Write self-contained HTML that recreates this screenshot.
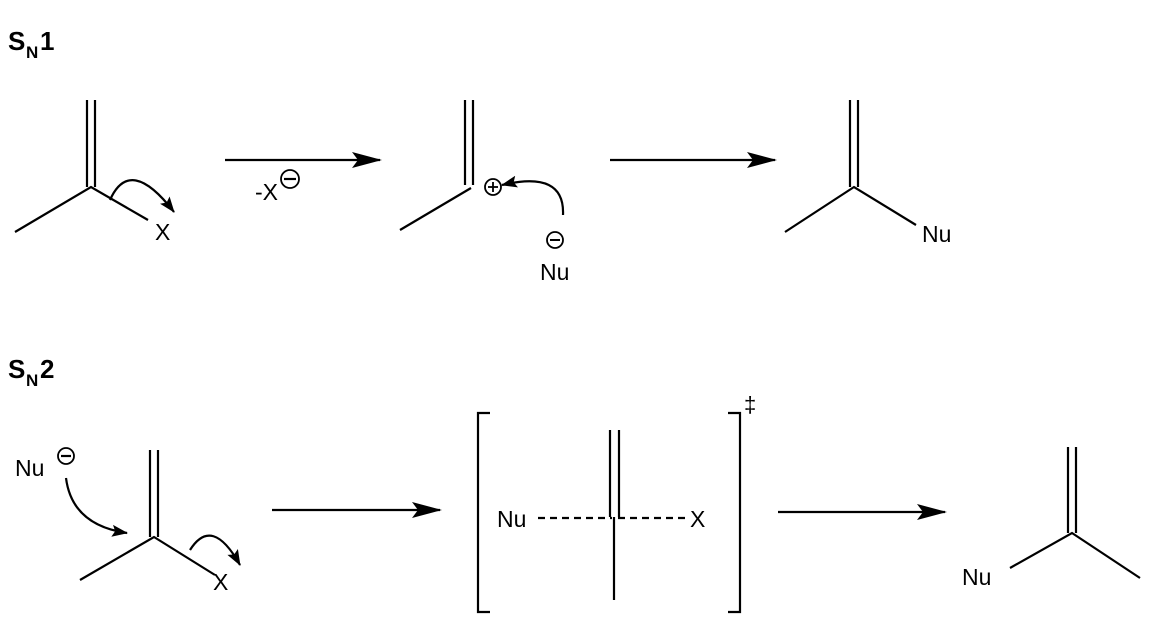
<!DOCTYPE html>
<html><head><style>
html,body{margin:0;padding:0;background:#fff}
svg{display:block}
text{font-family:"Liberation Sans",sans-serif;fill:#000}
</style></head><body>
<svg width="1159" height="628" viewBox="0 0 1159 628" xmlns="http://www.w3.org/2000/svg">
<defs>
<marker id="ah" markerWidth="16" markerHeight="14" refX="15" refY="7" orient="auto" markerUnits="userSpaceOnUse">
<path d="M0,1 L16,7 L0,13 L3,7 Z" fill="#000"/></marker>
<marker id="big" markerWidth="30" markerHeight="16" refX="28" refY="8" orient="auto" markerUnits="userSpaceOnUse">
<path d="M0,0 L30,8 L0,16 L6,8 Z" fill="#000"/></marker>
</defs>
<g stroke="#000" stroke-width="2.2" fill="none">
<line x1="87" y1="100" x2="87" y2="187"/><line x1="95" y1="100" x2="95" y2="187"/>
<polyline points="15,232 91,187 148,220"/>
<path d="M110,200 Q130,155 174,212" marker-end="url(#ah)"/>
<line x1="225" y1="160" x2="380" y2="160" marker-end="url(#big)"/>
<line x1="465" y1="100" x2="465" y2="185"/><line x1="473" y1="100" x2="473" y2="185"/>
<line x1="400" y1="230" x2="471" y2="188"/>
<circle cx="493" cy="187" r="8" stroke-width="1.8"/>
<line x1="488" y1="187" x2="498" y2="187" stroke-width="1.8"/><line x1="493" y1="182" x2="493" y2="192" stroke-width="1.8"/>
<path d="M563,215 Q565,170 502,185" marker-end="url(#ah)"/>
<circle cx="555" cy="240" r="8" stroke-width="1.8"/><line x1="550" y1="240" x2="560" y2="240" stroke-width="2"/>
<line x1="610" y1="160" x2="775" y2="160" marker-end="url(#big)"/>
<line x1="850" y1="100" x2="850" y2="187"/><line x1="858" y1="100" x2="858" y2="187"/>
<polyline points="785,232 854,187 916,225"/>
<circle cx="66" cy="456" r="8" stroke-width="1.8"/><line x1="61" y1="456" x2="71" y2="456"/>
<path d="M66,478 Q72,525 127,533" marker-end="url(#ah)"/>
<line x1="150" y1="450" x2="150" y2="537"/><line x1="158" y1="450" x2="158" y2="537"/>
<polyline points="80,580 154,537 215,575"/>
<path d="M190,550 Q212,515 240,565" marker-end="url(#ah)"/>
<line x1="272" y1="510" x2="440" y2="510" marker-end="url(#big)"/>
<polyline points="490,413 478,413 478,612 490,612"/>
<polyline points="728,413 740,413 740,612 728,612"/>
<line x1="610" y1="430" x2="610" y2="517"/><line x1="619" y1="430" x2="619" y2="517"/>
<line x1="614" y1="517" x2="614" y2="600"/>
<line x1="538" y1="518" x2="612" y2="518" stroke-dasharray="7,5"/>
<line x1="618" y1="518" x2="690" y2="518" stroke-dasharray="7,5"/>
<line x1="778" y1="512" x2="945" y2="512" marker-end="url(#big)"/>
<line x1="1068" y1="447" x2="1068" y2="533"/><line x1="1076" y1="447" x2="1076" y2="533"/>
<polyline points="1010,568 1072,533 1140,578"/>
</g>
<text x="8" y="50" font-size="26" font-weight="bold">S</text><text x="26" y="58" font-size="17" font-weight="bold">N</text><text x="40" y="50" font-size="26" font-weight="bold">1</text>
<text x="8" y="378" font-size="26" font-weight="bold">S</text><text x="26" y="386" font-size="17" font-weight="bold">N</text><text x="40" y="378" font-size="26" font-weight="bold">2</text>
<g font-size="23">
<text x="155" y="240">X</text>
<text x="255" y="200">-X</text>
<text x="540" y="280">Nu</text>
<text x="922" y="242">Nu</text>
<text x="15" y="476">Nu</text>
<text x="213" y="590">X</text>
<text x="497" y="527">Nu</text>
<text x="690" y="527">X</text>
<text x="962" y="585">Nu</text>
<text x="744" y="412" font-size="22">‡</text>
</g>
<circle cx="290" cy="179" r="9" stroke="#000" stroke-width="1.8" fill="none"/>
<line x1="284" y1="179" x2="296" y2="179" stroke="#000" stroke-width="2.2"/>
</svg>
</body></html>
